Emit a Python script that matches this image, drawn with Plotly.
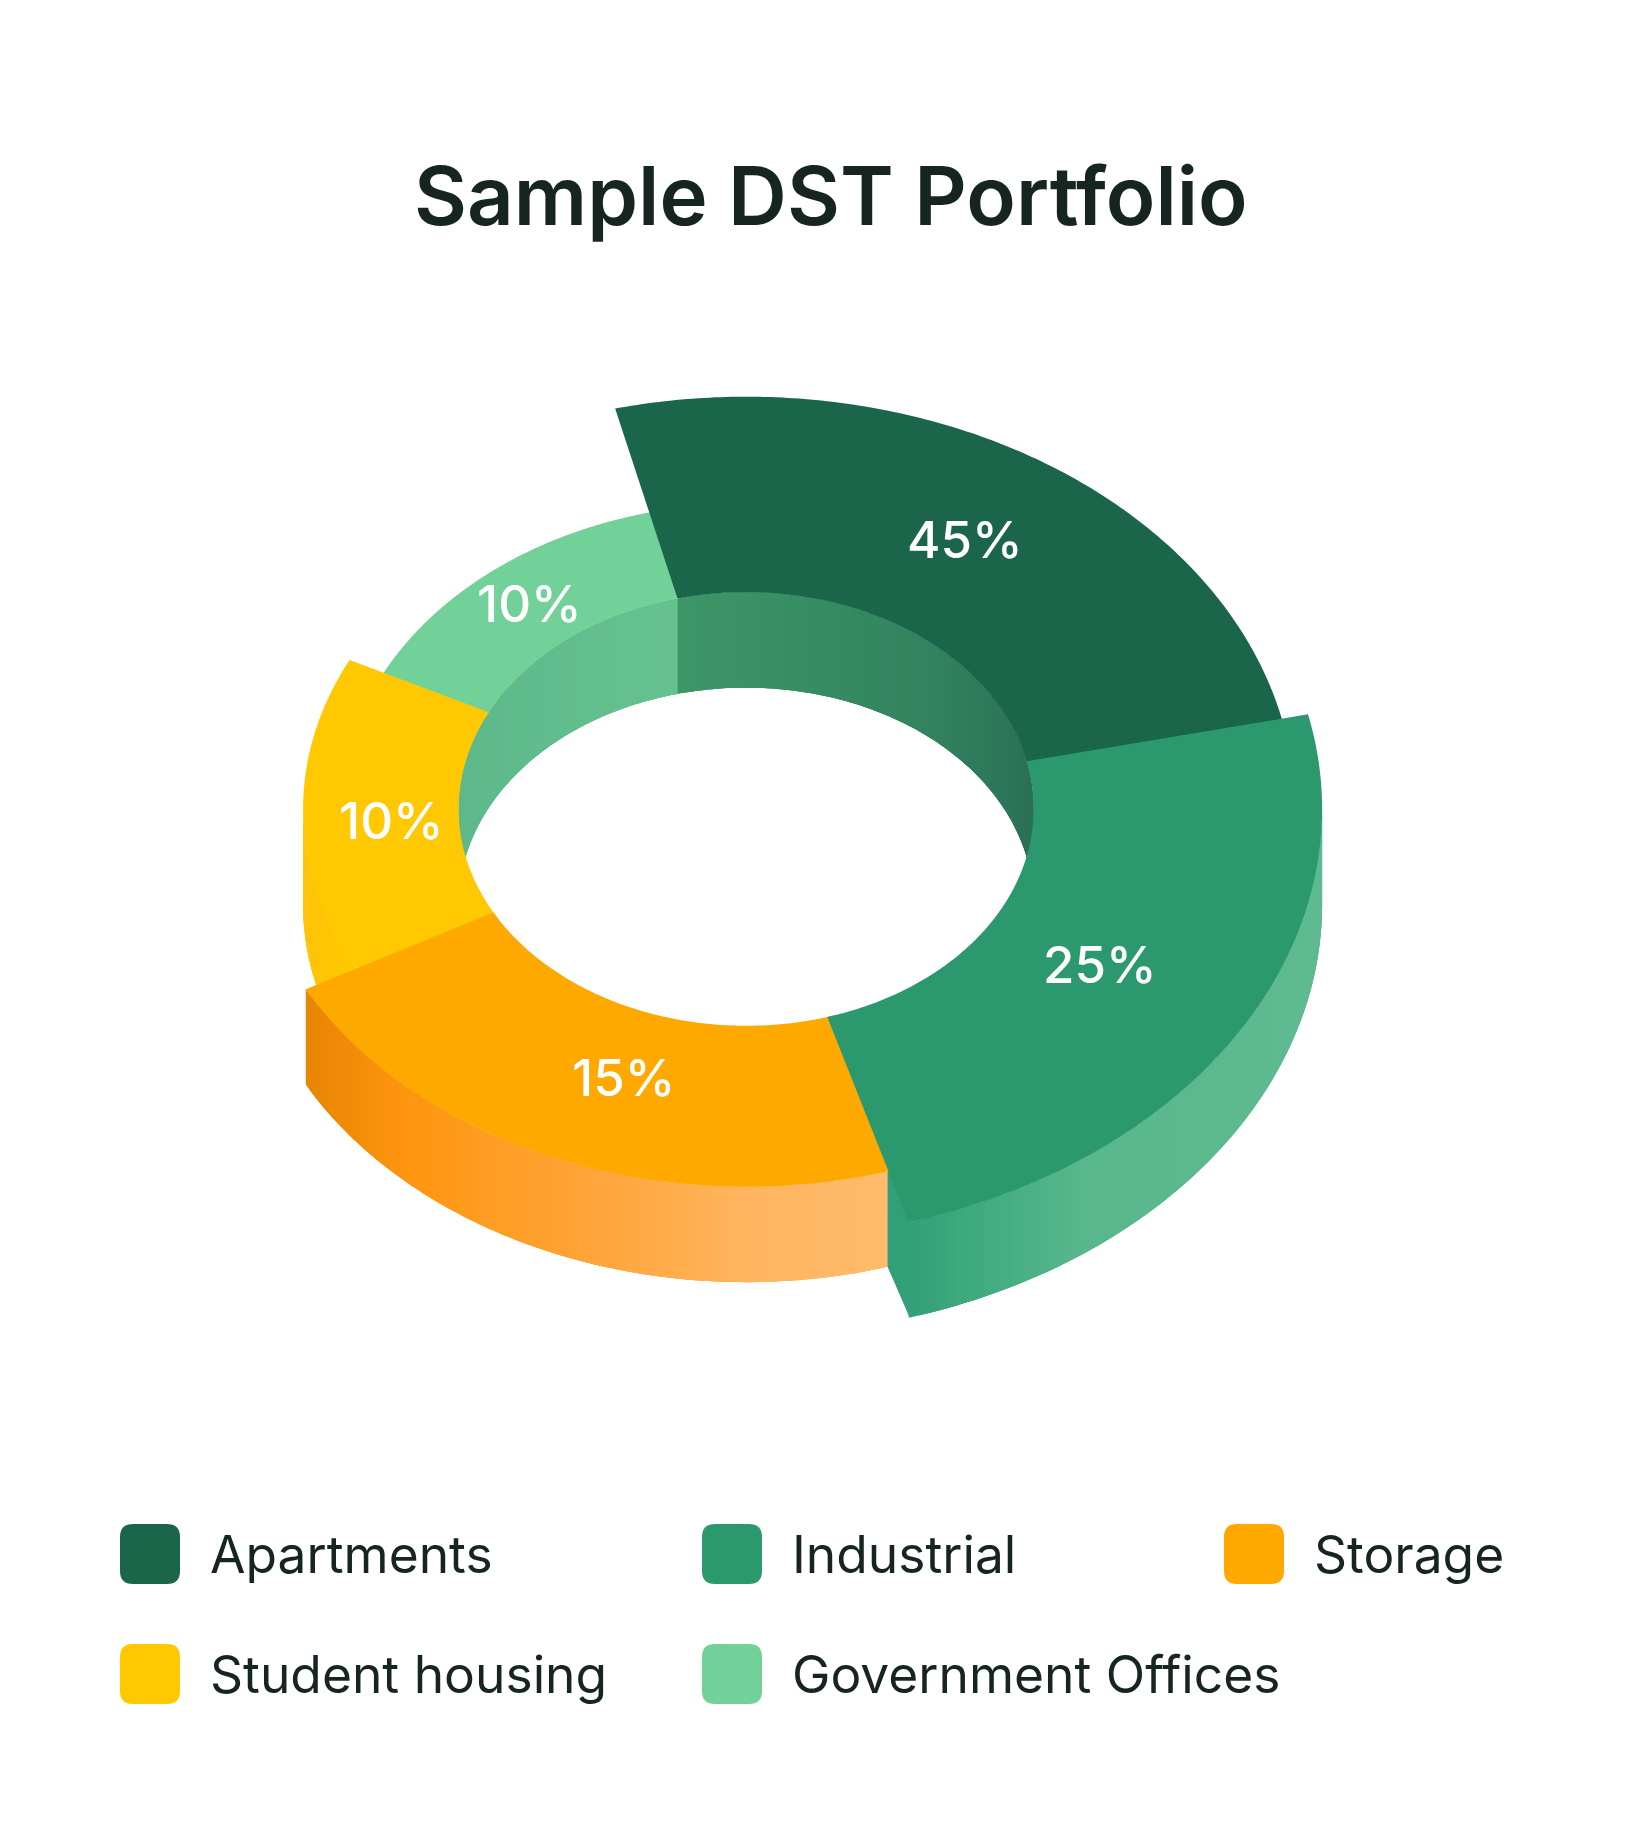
import numpy as np
import plotly.graph_objects as go

# ---- data ----
categories = ["Apartments", "Industrial", "Storage", "Student housing", "Government Offices"]
value_labels = [45, 25, 15, 10, 10]
# the drawing's slices do not follow the printed percentages: angles and radii are read off the picture
drawn_span_deg = [91.1, 86.3, 77.9, 55.0, 49.7]
outer_radius = [549, 576, 501, 443, 405]
outer_tilt = [0.751, 0.748, 0.754, 0.754, 0.754]

# ---- styles and layout ----
colors = ["#1B664A", "#2B986E", "#FFA800", "#FFC800", "#71D199"]
START_DEG = -13.8
CX, CY, INNER, K, DEPTH = 746.1, 809.0, 287.5, 0.754, 95.4
label_xy = [(965, 539), (1100, 964), (623, 1077), (391, 820), (529, 603)]
legend_xy = [(120, 1524), (702, 1524), (1224, 1524), (120, 1644), (702, 1644)]
TEXT = "#16261F"
FONT = "Inter"
# how far each top face runs on under the faces painted after it (start, end), in degrees
under = [(0, 2), (0, 0), (-2, 0), (-2, 0), (-2, 2)]


def pt(r, deg, k=K):
    t = np.radians(deg)
    return CX + r * np.sin(t), CY - k * r * np.cos(t)


def hex2rgb(h):
    return np.array([int(h[i:i + 2], 16) for i in (1, 3, 5)], float)


def grad(stops, x):
    xs = [s[0] for s in stops]
    cs = np.array([hex2rgb(s[1]) for s in stops])
    return "rgb(%d,%d,%d)" % tuple(np.interp(x, xs, cs[:, i]) for i in range(3))


fig = go.Figure()


def poly(xs, ys, color):
    fig.add_trace(go.Scatter(x=list(xs), y=list(ys), mode="none", fill="toself", fillcolor=color,
                             hoverinfo="skip", showlegend=False))


def wall(r, d0, d1, stops, k=K, step=1.0):
    """Vertical band; each strip runs on under the next one, so no seam shows."""
    n = max(2, int(abs(d1 - d0) / step) + 1)
    ang = np.linspace(d0, d1, n)
    for i in range(n - 1):
        seg = ang[i:min(i + 4, n)]
        x, y = pt(r, seg, k)
        xm = (pt(r, ang[i], k)[0] + pt(r, ang[i + 1], k)[0]) / 2
        poly(np.r_[x, x[::-1]], np.r_[y, y[::-1] + DEPTH], grad(stops, xm))


def sector(r0, r1, d0, d1, color, k1):
    ang = np.linspace(d0, d1, 160)
    ox, oy = pt(r1, ang, k1)
    ix, iy = pt(r0, ang[::-1])
    poly(np.r_[ox, ix], np.r_[oy, iy], color)


edges = START_DEG + np.r_[0, np.cumsum(drawn_span_deg)]
sx = 1626 / 1398

# inner wall (far side of the hole)
wall(INNER, -90, edges[0], [(394 * sx, "#5EB98A"), (582 * sx, "#66C391")])
wall(INNER, edges[0], 90,
     [(582 * sx, "#3E9768"), (700 * sx, "#378D63"), (800 * sx, "#328360"),
      (850 * sx, "#2F7A5B"), (886 * sx, "#2C7056")])

# outer walls
wall(outer_radius[3], edges[3], 270, [(260 * sx, "#FFC30A"), (300 * sx, "#FFC800")], outer_tilt[3])
wall(outer_radius[2], edges[3], edges[2],
     [(262 * sx, "#E88502"), (350 * sx, "#FF9610"), (500 * sx, "#FFA438"),
      (640 * sx, "#FFB55F"), (763 * sx, "#FFBB6C")], outer_tilt[2])

# side face where Industrial stands out past Storage; its top runs on under the Industrial top face
x0, y0 = pt(outer_radius[2], edges[2], outer_tilt[2])
x1, y1 = pt(outer_radius[1], edges[2], outer_tilt[1])
poly([x0, x1 + 1, x1 + 1, x0], [y0 - 6, y1 - 6, y1 + DEPTH, y0 + DEPTH], "#32A076")
wall(outer_radius[1], edges[2], 90,
     [(780 * sx, "#33A077"), (860 * sx, "#46AE84"), (930 * sx, "#59B78D"), (1136 * sx, "#5FBB92")],
     outer_tilt[1])

# top faces
for i in [4, 3, 0, 2, 1]:
    sector(INNER, outer_radius[i], edges[i] + under[i][0], edges[i + 1] + under[i][1],
           colors[i], outer_tilt[i])

ann = [dict(text="Sample DST Portfolio", x=831, y=195, xref="x", yref="y", showarrow=False,
            xanchor="center", yanchor="middle", font=dict(family=FONT, size=81.5, color=TEXT, weight=600))]
for v, (x, y) in zip(value_labels, label_xy):
    ann.append(dict(text=f"{v}%", x=x, y=y, xref="x", yref="y", showarrow=False, xanchor="center",
                    yanchor="middle", font=dict(family=FONT, size=51, color="#FFFFFF", weight=500)))

shapes = []
S, R = 60, 13
for name, col, (x, y) in zip(categories, colors, legend_xy):
    shapes.append(dict(type="path", xref="x", yref="y", fillcolor=col, line=dict(width=0), layer="above",
                       path=(f"M{x+R},{y} L{x+S-R},{y} Q{x+S},{y} {x+S},{y+R} L{x+S},{y+S-R} Q{x+S},{y+S} {x+S-R},{y+S} "
                             f"L{x+R},{y+S} Q{x},{y+S} {x},{y+S-R} L{x},{y+R} Q{x},{y} {x+R},{y} Z")))
    ann.append(dict(text=name, x=x + 88, y=y + 30, xref="x", yref="y", showarrow=False, xanchor="left",
                    yanchor="middle", font=dict(family=FONT, size=51.5, color=TEXT, weight=400)))

fig.update_layout(width=1626, height=1824, margin=dict(l=0, r=0, t=0, b=0),
                  paper_bgcolor="#FFFFFF", plot_bgcolor="#FFFFFF", showlegend=False,
                  xaxis=dict(range=[0, 1626], visible=False, fixedrange=True),
                  yaxis=dict(range=[1824, 0], visible=False, fixedrange=True),
                  annotations=ann, shapes=shapes)

fig.write_html("out.html", config={"displayModeBar": False},
               post_script="document.body.style.margin='0';document.documentElement.style.overflow='hidden';")
